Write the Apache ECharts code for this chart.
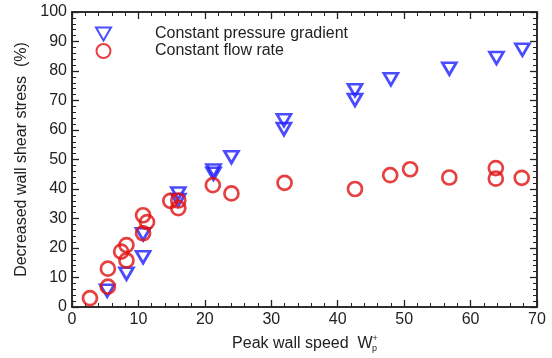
<!DOCTYPE html>
<html><head><meta charset="utf-8">
<script src="https://cdn.jsdelivr.net/npm/echarts@6/dist/echarts.min.js"></script>
<style>html,body{margin:0;padding:0;background:#fff}#c{width:552px;height:358px}</style>
</head><body><div id="c"></div>
<script>
const pgX = [5.3, 8.2, 10.7, 10.7, 16.0, 16.0, 21.3, 21.3, 24.0, 31.9, 31.9, 42.6, 42.6, 48.0, 56.8, 63.9, 67.8];
const pgY = [5.5, 11.3, 16.9, 24.7, 38.5, 36.3, 46.3, 45.2, 50.8, 63.3, 60.3, 73.5, 70.2, 77.2, 80.8, 84.4, 87.2];
const frX = [2.7, 5.4, 5.4, 7.4, 8.2, 8.2, 10.7, 10.7, 11.3, 14.8, 16.0, 16.0, 21.2, 24.0, 32.0, 42.6, 47.9, 50.9, 56.8, 63.8, 63.8, 67.7];
const frY = [3.0, 6.9, 13.0, 18.8, 21.0, 15.8, 25.0, 31.1, 28.8, 36.0, 36.1, 33.5, 41.3, 38.5, 42.1, 40.0, 44.7, 46.7, 43.9, 47.1, 43.5, 43.8];
const seriesNames = ['Constant pressure gradient', 'Constant flow rate'];
const xTicks = [0, 70, 10];
const yTicks = [0, 100, 10];

const zip = (a, b) => a.map((v, i) => [v, b[i]]);
const tri = 'path://M0,0 L20,0 L10,17.3 Z';
const font = 'Liberation Sans, Arial, sans-serif';
const axisCommon = (show) => ({
  type: 'value',
  axisLine: {show: true, onZero: false, lineStyle: {color: '#222', width: 1.5}},
  axisTick: {show: true, inside: true, length: 7, lineStyle: {color: '#222', width: 1.3}},
  minorTick: {show: true, splitNumber: 5, length: 4, lineStyle: {color: '#222', width: 1}},
  splitLine: {show: false},
  axisLabel: {show: show, color: '#222', fontSize: 16, fontFamily: font, margin: 5}
});
const chart = echarts.init(document.getElementById('c'));
chart.setOption({
  animation: false,
  backgroundColor: '#fff',
  grid: {left: 72, right: 15, top: 12, bottom: 46, show: true, borderColor: '#222', borderWidth: 1.5, backgroundColor: 'rgba(0,0,0,0)'},
  legend: {
    orient: 'vertical', left: 90, top: 21, itemGap: 1, itemWidth: 15, itemHeight: 14,
    textStyle: {fontSize: 16, fontFamily: font, color: '#222', padding: [0, 0, 0, 39]},
    data: seriesNames
  },
  xAxis: [
    Object.assign(axisCommon(true), {min: xTicks[0], max: xTicks[1], interval: xTicks[2], position: 'bottom',
      name: '{a|Peak wall speed  W}{s|+}{p|p}', nameLocation: 'middle', nameGap: 27,
      nameTextStyle: {rich: {
        a: {fontSize: 16, fontFamily: font, color: '#222'},
        s: {fontSize: 9, fontFamily: font, color: '#222', verticalAlign: 'top', padding: [0,0,8,0]},
        p: {fontSize: 9, fontFamily: font, color: '#222', verticalAlign: 'bottom', padding: [10,0,0,-6]}
      }}}),
    Object.assign(axisCommon(false), {min: xTicks[0], max: xTicks[1], interval: xTicks[2], position: 'top'})
  ],
  yAxis: [
    Object.assign(axisCommon(true), {min: yTicks[0], max: yTicks[1], interval: yTicks[2], position: 'left',
      name: 'Decreased wall shear stress  (%)', nameLocation: 'middle', nameGap: 40,
      nameTextStyle: {fontSize: 16, fontFamily: font, color: '#222'}}),
    Object.assign(axisCommon(false), {min: yTicks[0], max: yTicks[1], interval: yTicks[2], position: 'right'})
  ],
  series: [
    {name: seriesNames[0], type: 'scatter', symbol: tri, symbolSize: [14, 12],
     itemStyle: {color: 'rgba(0,0,0,0)', borderColor: '#1f1fff', borderWidth: 2.7},
     data: zip(pgX, pgY)},
    {name: seriesNames[1], type: 'scatter', symbol: 'circle', symbolSize: 14,
     itemStyle: {color: 'rgba(0,0,0,0)', borderColor: '#e01010', borderWidth: 2.7},
     data: zip(frX, frY)}
  ]
});
</script></body></html>
